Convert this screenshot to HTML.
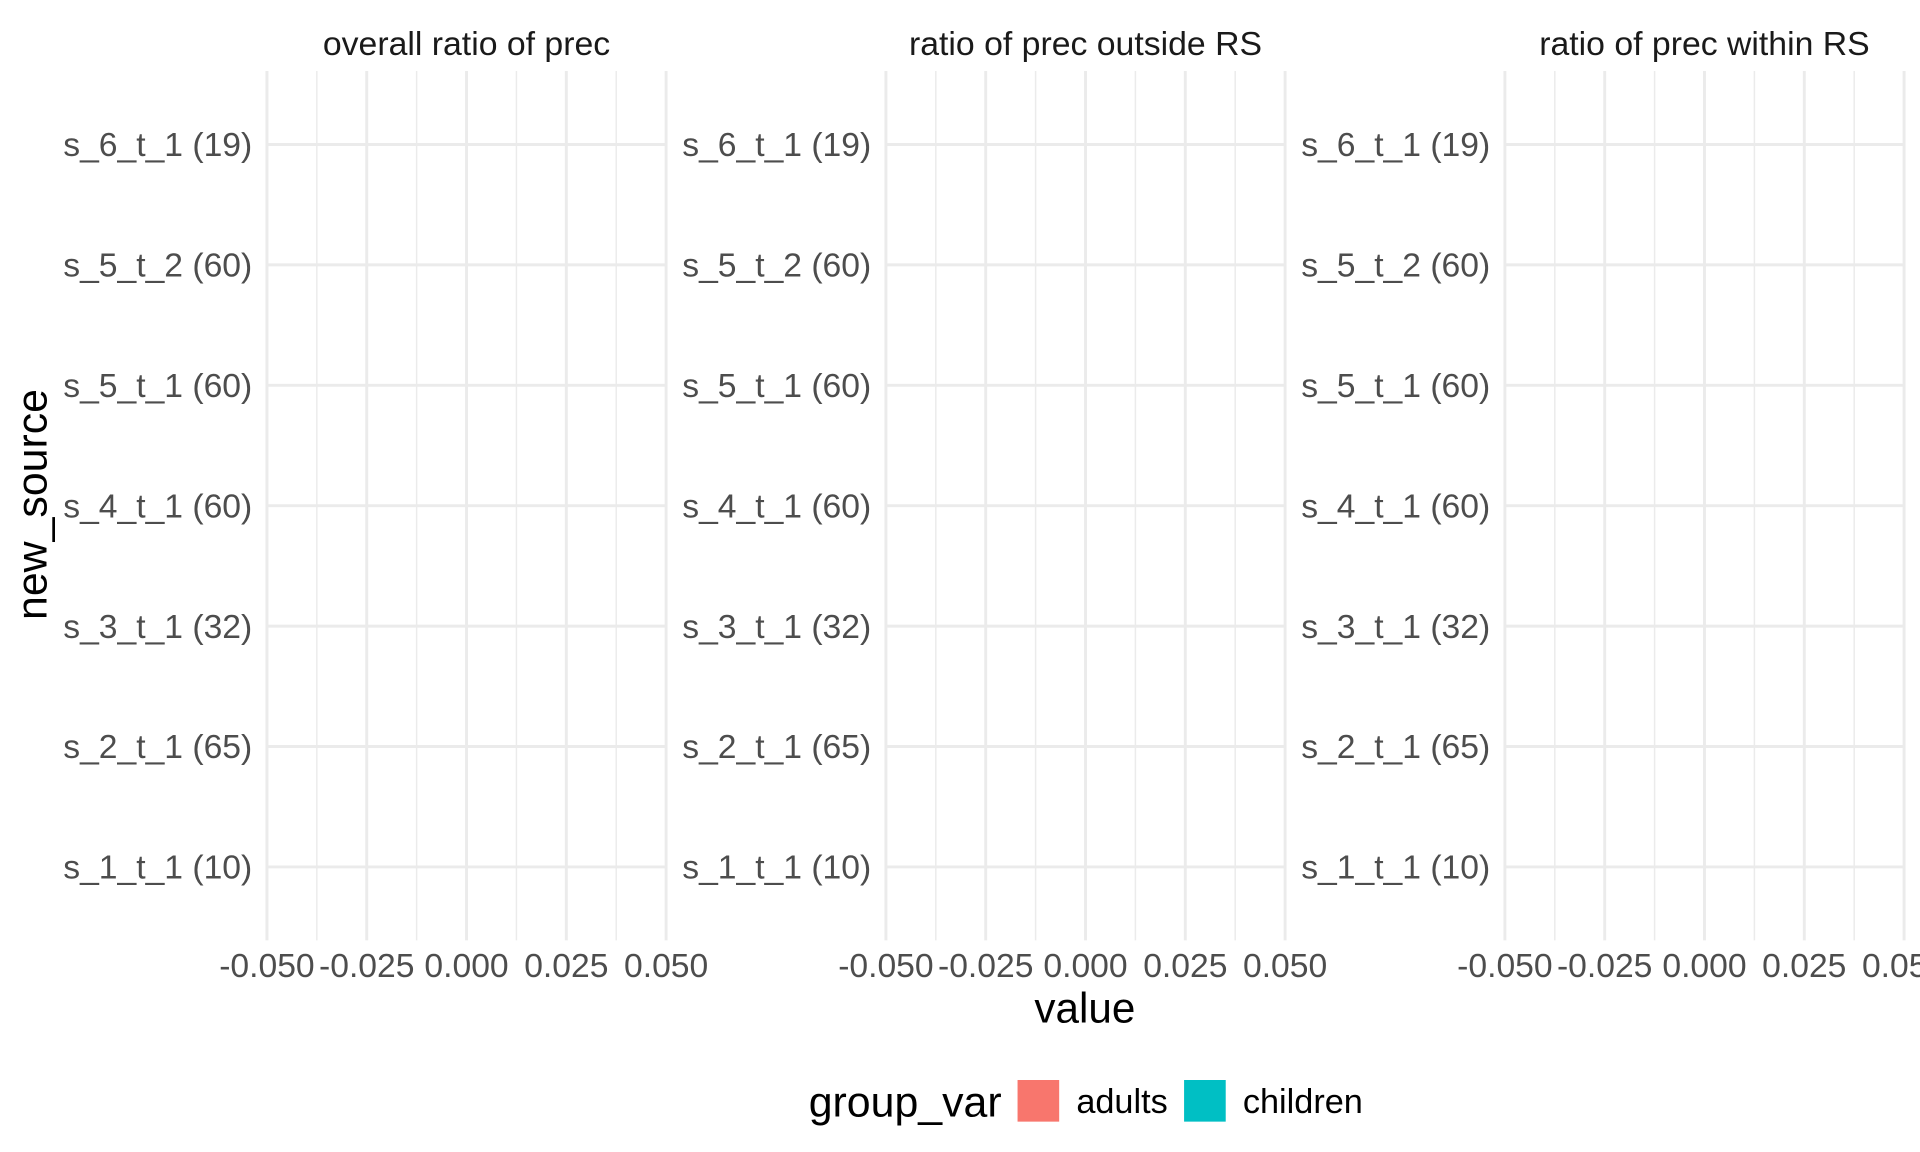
<!DOCTYPE html>
<html><head><meta charset="utf-8"><style>
html,body{margin:0;padding:0;background:#fff;}
svg{display:block;font-family:"Liberation Sans",Arial,sans-serif;}
</style></head><body>
<svg id="chart" width="1920" height="1152" viewBox="0 0 1568 940.8" preserveAspectRatio="none" xmlns="http://www.w3.org/2000/svg">
<g id="panels"></g>
<text x="886" y="835" font-size="34.5" text-anchor="middle" fill="#000">value</text>
<text transform="translate(38,412) rotate(-90)" font-size="35" text-anchor="middle" fill="#000">new_source</text>
<g>
<text x="818" y="912" font-size="35" text-anchor="end" fill="#000">group_var</text>
<rect x="831" y="882" width="34" height="34" fill="#F8766D"/>
<text x="879" y="909" font-size="28" fill="#000">adults</text>
<rect x="967" y="882" width="34" height="34" fill="#00BFC4"/>
<text x="1015" y="909" font-size="28" fill="#000">children</text>
</g>
</svg>
<script>
const facets = ["overall ratio of prec", "ratio of prec outside RS", "ratio of prec within RS"];
const categories = ["s_1_t_1 (10)", "s_2_t_1 (65)", "s_3_t_1 (32)", "s_4_t_1 (60)", "s_5_t_1 (60)", "s_5_t_2 (60)", "s_6_t_1 (19)"];
const xTicks = [-0.05, -0.025, 0, 0.025, 0.05];
const xTickLabels = ["-0.050", "-0.025", "0.000", "0.025", "0.050"];
const adultsValues = [];
const childrenValues = [];

const NS = "http://www.w3.org/2000/svg";
const panelLeft = [218, 723.5, 1229];
const panelW = 326;
const panelTop = 58, panelBottom = 768;
const xDomain = [-0.05, 0.05];
function xScale(i, v) { return panelLeft[i] + (v - xDomain[0]) / (xDomain[1] - xDomain[0]) * panelW; }
function yScale(k) { return 708 - k * ((708 - 118) / (categories.length - 1)); }
function mk(tag, attrs, parent) {
  const e = document.createElementNS(NS, tag);
  for (const k in attrs) e.setAttribute(k, attrs[k]);
  parent.appendChild(e); return e;
}
const root = document.getElementById("panels");
facets.forEach((f, i) => {
  const g = mk("g", {}, root);
  
  
  for (let t = 0; t < xTicks.length - 1; t++) {
    const xm = xScale(i, (xTicks[t] + xTicks[t + 1]) / 2);
    const l = mk("line", {x1: xm, x2: xm, y1: panelTop, y2: panelBottom, stroke: "#ebebeb", "stroke-width": 1.2}, g);
    
    
  }
  xTicks.forEach((t, j) => {
    const x = xScale(i, t);
    const l = mk("line", {x1: x, x2: x, y1: panelTop, y2: panelBottom, stroke: "#ebebeb", "stroke-width": 2.4}, g);
    
    
    const tx = mk("text", {x: x, y: 798, "font-size": 27.5, "text-anchor": "middle", fill: "#4d4d4d"}, g);
    tx.textContent = xTickLabels[j];
    
    
  });
  categories.forEach((c, k) => {
    const y = yScale(k);
    const l = mk("line", {x1: panelLeft[i], x2: panelLeft[i] + panelW, y1: y, y2: y, stroke: "#ebebeb", "stroke-width": 2.4}, g);
    
    
    const tx = mk("text", {x: panelLeft[i] - 12, y: y + 9.5, "font-size": 27.5, "text-anchor": "end", fill: "#4d4d4d"}, g);
    tx.textContent = c;
    
    
  });
  const bw = 30;
  adultsValues.forEach((v, k) => {
    const x0 = xScale(i, 0), x1 = xScale(i, v);
    const r = mk("rect", {x: Math.min(x0, x1), y: yScale(k) - bw, width: Math.abs(x1 - x0), height: bw, fill: "#F8766D"}, g);
    
    
  });
  childrenValues.forEach((v, k) => {
    const x0 = xScale(i, 0), x1 = xScale(i, v);
    const r = mk("rect", {x: Math.min(x0, x1), y: yScale(k), width: Math.abs(x1 - x0), height: bw, fill: "#00BFC4"}, g);
    
    
  });
  const st = mk("text", {x: panelLeft[i] + panelW / 2, y: 45, "font-size": 27.6, "text-anchor": "middle", fill: "#1a1a1a"}, g);
  st.textContent = f;
  
  
});
</script>
</body></html>
